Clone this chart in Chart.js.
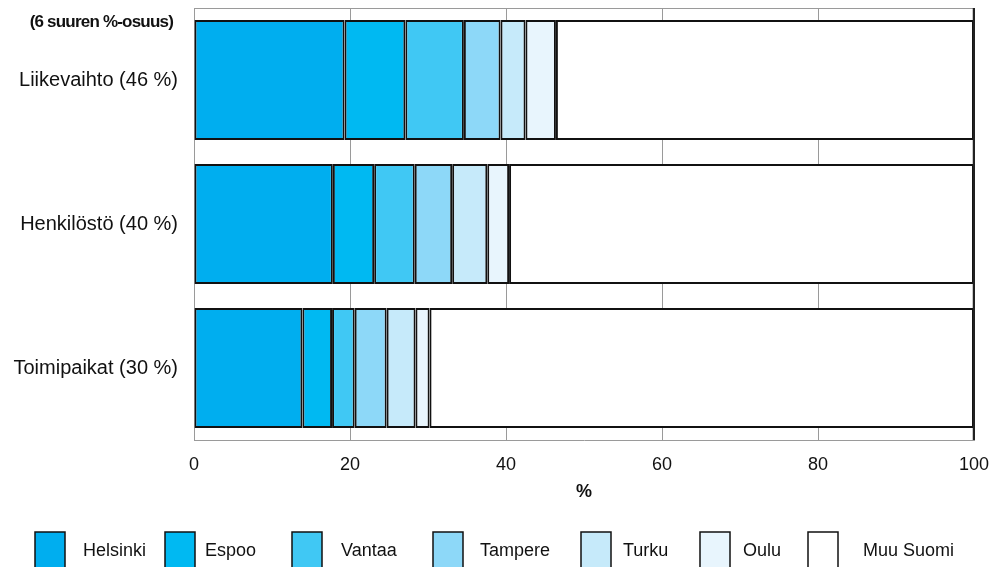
<!DOCTYPE html>
<html>
<head>
<meta charset="utf-8">
<script src="https://cdn.jsdelivr.net/npm/chart.js@4"></script>
<style>
  html, body { margin: 0; padding: 0; background: #fff; }
  #wrap { width: 992px; height: 567px; position: relative; }
</style>
</head>
<body>
<div id="wrap"><canvas id="chart"></canvas></div>
<script>
const categories = ['Liikevaihto (46 %)', 'Henkilöstö (40 %)', 'Toimipaikat (30 %)'];
const cityNames = ['Helsinki', 'Espoo', 'Vantaa', 'Tampere', 'Turku', 'Oulu', 'Muu Suomi'];

const helsinki = [19.3, 17.8, 13.9];
const espoo    = [7.8, 5.3, 3.8];
const vantaa   = [7.5, 5.2, 2.9];
const tampere  = [4.7, 4.8, 4.1];
const turku    = [3.2, 4.5, 3.7];
const oulu     = [3.9, 2.8, 1.8];
const muuSuomi = [53.6, 59.6, 69.8];

const xTicks = [0, 20, 40, 60, 80, 100];
const subTitle = '(6 suuren %-osuus)';
const xTitle = '%';

const colors = ['#00aeef', '#00b9f2', '#40c8f4', '#8dd8f8', '#c6eafa', '#e8f5fd', '#ffffff'];
const seriesValues = [helsinki, espoo, vantaa, tampere, turku, oulu, muuSuomi];

const FONT = "'Liberation Sans', Arial, sans-serif";

// legend item positions (box left, text left) like the original layout
const legendBoxX = [35, 165, 292, 433, 581, 700, 808];
const legendTextX = [83, 205, 341, 480, 623, 743, 863];

const extrasPlugin = {
  id: 'extras',
  beforeDatasetsDraw(chart) {
    const {ctx, chartArea} = chart;
    ctx.save();
    ctx.strokeStyle = '#9a9a9a';
    ctx.lineWidth = 1;
    ctx.beginPath();
    ctx.moveTo(chartArea.left, chartArea.top + 0.5);
    ctx.lineTo(chartArea.right, chartArea.top + 0.5);
    ctx.stroke();
    ctx.restore();
  },
  afterDraw(chart) {
    const {ctx, chartArea} = chart;
    ctx.save();
    // right border of plot
    ctx.strokeStyle = '#222';
    ctx.lineWidth = 1.5;
    ctx.beginPath();
    ctx.moveTo(chartArea.right - 0.5, chartArea.top);
    ctx.lineTo(chartArea.right - 0.5, chartArea.bottom);
    ctx.stroke();

    // sub title
    ctx.fillStyle = '#111';
    ctx.font = 'bold 17px ' + FONT;
    ctx.letterSpacing = '-0.8px';
    ctx.textAlign = 'right';
    ctx.textBaseline = 'middle';
    ctx.fillText(subTitle, 173, 22);
    ctx.letterSpacing = '0px';

    // legend
    ctx.font = '18px ' + FONT;
    ctx.textAlign = 'left';
    chart.data.datasets.forEach((ds, i) => {
      ctx.fillStyle = ds.backgroundColor;
      ctx.fillRect(legendBoxX[i], 532, 30, 40);
      ctx.strokeStyle = '#111';
      ctx.lineWidth = 1.5;
      ctx.strokeRect(legendBoxX[i], 532, 30, 40);
      ctx.fillStyle = '#111';
      ctx.fillText(ds.label, legendTextX[i], 551);
    });
    ctx.restore();
  }
};

new Chart(document.getElementById('chart'), {
  type: 'bar',
  data: {
    labels: categories,
    datasets: seriesValues.map((vals, i) => ({
      label: cityNames[i],
      data: vals,
      backgroundColor: colors[i],
      borderColor: '#111',
      borderWidth: 2,
      borderSkipped: false,
      barPercentage: 0.835,
      categoryPercentage: 1
    }))
  },
  options: {
    indexAxis: 'y',
    responsive: true,
    maintainAspectRatio: false,
    animation: false,
    layout: { padding: { top: 8, right: 18, left: 0, bottom: 0 } },
    plugins: {
      legend: { display: false },
      tooltip: { enabled: false }
    },
    scales: {
      x: {
        stacked: true,
        min: 0,
        max: 100,
        afterBuildTicks: (scale) => { scale.ticks = xTicks.map(v => ({value: v})); },
        afterFit: (scale) => {
          scale.height = 127;
          scale.paddingLeft = 0;
          scale.paddingRight = 0;
        },
        grid: {
          color: (c) => (c.tick && c.tick.value === 100) ? '#222' : '#9a9a9a',
          drawTicks: false
        },
        border: { color: '#9a9a9a', width: 1 },
        ticks: {
          color: '#111',
          padding: 14,
          font: { family: FONT, size: 18 }
        },
        title: {
          display: true,
          text: xTitle,
          color: '#111',
          font: { family: FONT, size: 18, weight: 'bold' },
          padding: { top: 4, bottom: 64 }
        }
      },
      y: {
        stacked: true,
        afterFit: (scale) => {
          scale.width = 194;
          scale.paddingTop = 0;
          scale.paddingBottom = 0;
        },
        grid: { display: false, drawTicks: false },
        border: { color: '#9a9a9a', width: 1 },
        ticks: {
          color: '#111',
          padding: 16,
          font: { family: FONT, size: 20 }
        }
      }
    }
  },
  plugins: [extrasPlugin]
});
</script>
</body>
</html>
